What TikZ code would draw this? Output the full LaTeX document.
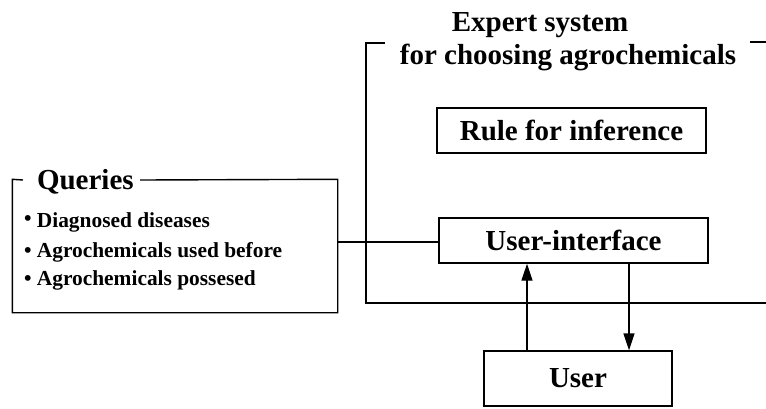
\documentclass[tikz,border=0pt]{standalone}
\usepackage{fontspec}
\setmainfont{Liberation Serif}
\usetikzlibrary{arrows.meta}
\begin{document}
\begin{tikzpicture}[x=1pt,y=-1pt,
  line width=1.4pt,
  big/.style={font=\fontsize{29}{33}\selectfont\bfseries},
  small/.style={font=\fontsize{21.4}{24}\selectfont\bfseries},
  box/.style={draw,big,inner sep=0pt,minimum width=#1},
  arr/.style={-{Triangle[length=17pt,width=11pt]}}]
\useasboundingbox (0,0) rectangle (766,408);
% title
\node[big,anchor=base] (t1) at (540,31) {Expert system};
\node[big,anchor=base] (t2) at (568,64) {for choosing agrochemicals};
% expert system frame
\draw (385,43) -- (366,43) -- (366,303) -- (766,303);
\draw (750,42) -- (766,42);
% boxes
\node[box=269pt,minimum height=45pt] (rule) at (571.5,130.5) {Rule for inference};
\node[box=269pt,minimum height=45pt] (ui) at (573.5,240.5) {User-interface};
\node[box=188pt,minimum height=55pt] (user) at (578,378.5) {User};
% queries frame
\node[minimum width=324pt,minimum height=132pt,inner sep=0pt] (q) at (175,246) {};
\node[big,anchor=base west] (qt) at (33,189) {Queries};
\draw (23,180) -- (q.north west) -- (q.south west) -- (q.south east) -- (q.north east) -- (140,180);
\node[small,anchor=base west] (i1) at (20,227) {\raisebox{2pt}{•} Diagnosed diseases};
\node[small,anchor=base west] (i2) at (20,257) {• Agrochemicals used before};
\node[small,anchor=base west] (i3) at (20,285) {• Agrochemicals possesed};
% connectors
\draw (q.east |- 0,242) -- (ui.west |- 0,242);
\draw[arr] (user.north -| 527,0) -- (ui.south -| 527,0);
\draw[arr] (ui.south -| 629,0) -- (user.north -| 629,0);
\end{tikzpicture}
\end{document}
